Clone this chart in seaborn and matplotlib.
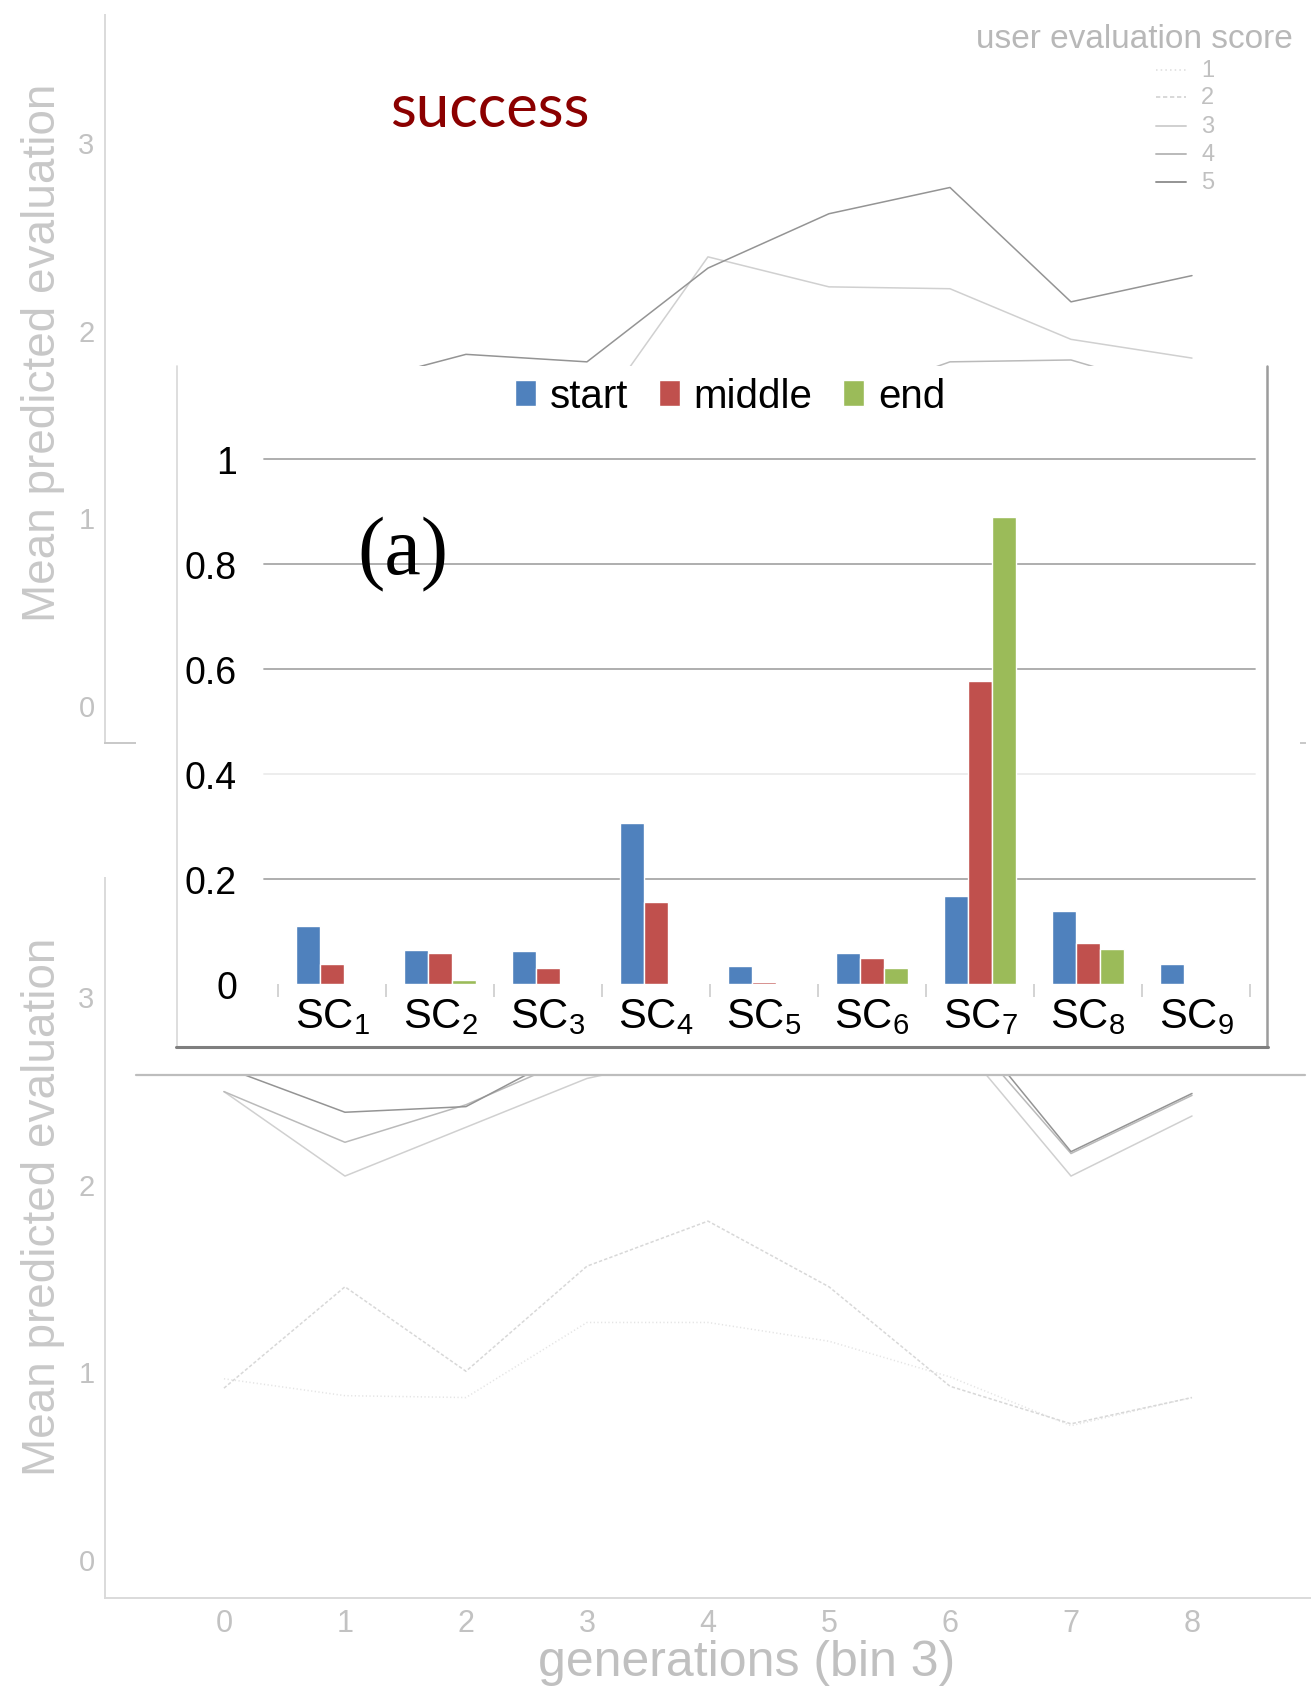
import matplotlib
matplotlib.use("Agg")
import numpy as np
import pandas as pd
import matplotlib.pyplot as plt
import seaborn as sns
from matplotlib.patches import Rectangle
from matplotlib.lines import Line2D
from matplotlib.ticker import FixedLocator, MultipleLocator

# ---------------------------------------------------------------- data
generations = [0, 1, 2, 3, 4, 5, 6, 7, 8]
score_levels = ["1", "2", "3", "4", "5"]

# "success" panel: mean predicted evaluation per generation bin
success_s1 = [0.80, 0.85, 0.90, 0.95, 1.00, 0.95, 0.90, 0.85, 0.80]
success_s2 = [0.90, 1.00, 1.10, 1.20, 1.30, 1.25, 1.15, 1.05, 1.00]
success_s3 = [1.30, 1.45, 1.40, 1.48, 2.39, 2.23, 2.22, 1.95, 1.85]
success_s4 = [1.45, 1.50, 1.55, 1.40, 1.50, 1.60, 1.83, 1.84, 1.65]
success_s5 = [1.55, 1.70, 1.87, 1.83, 2.33, 2.62, 2.76, 2.15, 2.29]

# lower panel
lower_s1 = [0.96, 0.87, 0.86, 1.26, 1.26, 1.16, 0.97, 0.71, 0.86]
lower_s2 = [0.91, 1.45, 1.00, 1.56, 1.80, 1.45, 0.92, 0.72, 0.86]
lower_s3 = [2.49, 2.04, 2.30, 2.56, 2.70, 2.80, 2.81, 2.04, 2.36]
lower_s4 = [2.49, 2.22, 2.42, 2.70, 2.85, 2.95, 2.90, 2.16, 2.47]
lower_s5 = [2.62, 2.38, 2.41, 2.75, 2.95, 3.05, 2.96, 2.17, 2.48]

# inset bar chart (a)
categories = [r"$\mathregular{SC_{%d}}$" % i for i in range(1, 10)]
phases = ["start", "middle", "end"]
start_vals = [0.111, 0.064, 0.062, 0.306, 0.034, 0.059, 0.168, 0.140, 0.038]
middle_vals = [0.038, 0.059, 0.030, 0.157, 0.004, 0.049, 0.577, 0.078, 0.0]
end_vals = [0.0, 0.008, 0.0, 0.0, 0.0, 0.031, 0.889, 0.067, 0.0]

# ---------------------------------------------------------------- style
sns.set_style("white")
plt.rcParams["font.family"] = ["Liberation Sans", "DejaVu Sans"]
plt.rcParams["mathtext.default"] = "regular"

W, H = 1312, 1690
fig = plt.figure(figsize=(W / 100, H / 100), dpi=100)


def frect(l, t, r, b):
    return [l / W, 1 - b / H, (r - l) / W, (b - t) / H]


def fx(x):
    return x / W


def fy(y):
    return 1 - y / H


line_colors = {"1": "#E4E4E4", "2": "#D8D8D8", "3": "#D0D0D0",
               "4": "#BABABA", "5": "#949494"}
line_dashes = {"1": (0.8, 1.6), "2": (2.2, 1.4), "3": "", "4": "", "5": ""}
axis_grey = "#DADADA"
text_grey = "#C2C2C2"


def long_frame(series):
    rows = []
    for s, vals in zip(score_levels, series):
        for g, v in zip(generations, vals):
            rows.append({"generation": g, "value": v, "score": s})
    return pd.DataFrame(rows)


def style_background(ax):
    ax.set_facecolor("none")
    for side in ("top", "right"):
        ax.spines[side].set_visible(False)
    for side in ("left", "bottom"):
        ax.spines[side].set_color(axis_grey)
        ax.spines[side].set_linewidth(1.4)
    ax.yaxis.set_major_locator(FixedLocator([0, 1, 2, 3]))
    ax.yaxis.set_minor_locator(MultipleLocator(0.5))
    ax.tick_params(axis="y", which="major", length=6, width=1.2, color=axis_grey,
                   labelsize=21, labelcolor=text_grey, pad=1.5)
    ax.tick_params(axis="y", which="minor", length=3, width=1.0, color="#E6E6E6")
    ax.set_ylabel("Mean predicted evaluation", fontsize=33, color="#C8C8C8")
    ax.yaxis.label.set_va("center")


# ---------------------------------------------------------------- lower panel
ax_bot = fig.add_axes(frect(105, 879, 1310, 1599), zorder=0)
sns.lineplot(data=long_frame([lower_s1, lower_s2, lower_s3, lower_s4, lower_s5]),
             x="generation", y="value", hue="score", style="score",
             palette=line_colors, dashes=line_dashes, linewidth=1.1,
             legend=False, ax=ax_bot)
style_background(ax_bot)
ax_bot.set_xlim(-0.983, 8.975)
ax_bot.set_ylim(-0.208, 3.628)
ax_bot.set_xticks(generations)
ax_bot.tick_params(axis="x", length=5, width=1.2, color=axis_grey,
                   labelsize=22, labelcolor=text_grey, pad=2)
ax_bot.set_xlabel("generations (bin 3)", fontsize=36, color="#C0C0C0")
ax_bot.xaxis.label.set_va("center")
ax_bot.xaxis.set_label_coords((747 - 105) / 1205, -(1663 - 1599) / 720)
ax_bot.yaxis.set_label_coords((43 - 105) / 1205, (1599 - 1207) / 720)

# ---------------------------------------------------------------- success panel
ax_top = fig.add_axes(frect(105, 16, 1305, 744), zorder=1)
sns.lineplot(data=long_frame([success_s1, success_s2, success_s3, success_s4, success_s5]),
             x="generation", y="value", hue="score", style="score",
             palette=line_colors, dashes=line_dashes, linewidth=1.1,
             legend=False, ax=ax_top)
style_background(ax_top)
ax_top.spines["bottom"].set_color("#C8C8C8")
ax_top.set_xlim(-0.983, 8.934)
ax_top.set_ylim(-0.203, 3.68)
ax_top.set_xticks(generations)
ax_top.tick_params(axis="x", bottom=False, labelbottom=False)
ax_top.set_xlabel("")
ax_top.yaxis.set_label_coords((43 - 105) / 1200, (744 - 353) / 728)

fig.text(fx(490), fy(110), "success", fontsize=43, color="#8B0000",
         family=["Lato", "DejaVu Sans"], ha="center", va="center", zorder=6)

# score legend of the line panels
fig.text(fx(976), fy(40), "user evaluation score", fontsize=24, color="#B8B8B8",
         ha="left", va="center", zorder=6)
for s, yrow in zip(score_levels, [71, 98, 127, 155, 183]):
    fig.add_artist(Line2D([fx(1156), fx(1186)], [fy(yrow), fy(yrow)],
                          color=line_colors[s], lw=1.4,
                          dashes=line_dashes[s] if line_dashes[s] else (None, None),
                          zorder=6))
    fig.text(fx(1201), fy(yrow), s, fontsize=17, color="#C0C0C0",
             ha="left", va="center", zorder=6)

# white sheet between the panels with its lower edge
fig.add_artist(Rectangle((fx(136), fy(1076)), (1300 - 136) / W, (1076 - 740) / H,
                         transform=fig.transFigure, facecolor="white",
                         edgecolor="none", zorder=2))
fig.add_artist(Line2D([fx(136), fx(1305)], [fy(1076), fy(1076)],
                      color="#BDBDBD", lw=1.6, zorder=2.1))

# ---------------------------------------------------------------- inset (a)
fig.add_artist(Rectangle((fx(176), fy(1047)), (1267 - 176) / W, (1047 - 367) / H,
                         transform=fig.transFigure, facecolor="white",
                         edgecolor="none", zorder=3))
fig.add_artist(Line2D([fx(177), fx(177)], [fy(367), fy(1047)],
                      color="#D8D8D8", lw=1.2, zorder=3.1))
fig.add_artist(Line2D([fx(1267), fx(1267)], [fy(367), fy(1048)],
                      color="#9C9C9C", lw=1.8, zorder=3.1))
fig.add_artist(Line2D([fx(176), fx(1268)], [fy(1048), fy(1048)],
                      color="#7F7F7F", lw=2.2, zorder=3.1))

bars = pd.DataFrame({
    "category": np.repeat(categories, 3),
    "phase": phases * len(categories),
    "value": np.ravel(np.column_stack([start_vals, middle_vals, end_vals])),
})
bar_colors = {"start": "#4F81BD", "middle": "#C0504D", "end": "#9BBB59"}

bar_left, bar_right = 278, 1250
ax_bar = fig.add_axes(frect(bar_left, 460, bar_right, 985), zorder=4)
ax_bar.set_facecolor("none")
sns.barplot(data=bars, x="category", y="value", hue="phase", palette=bar_colors,
            order=categories, hue_order=phases, width=0.67, errorbar=None,
            saturation=1, ax=ax_bar, zorder=3)
ax_bar.set_xlim(-0.5, 8.5)
ax_bar.set_ylim(0, 1)
for side in ax_bar.spines:
    ax_bar.spines[side].set_visible(False)
ax_bar.set_xlabel("")
ax_bar.set_ylabel("")

# horizontal gridlines run a little past the category range
yt = [0, 0.2, 0.4, 0.6, 0.8, 1.0]
span = bar_right - bar_left
for v in yt[1:]:
    ax_bar.axhline(v, xmin=-(bar_left - 264) / span, xmax=(1255 - bar_left) / span,
                   clip_on=False, zorder=1,
                   lw=1.3, color="#ECECEC" if v == 0.4 else "#A8A8A8")
ax_bar.set_yticks(yt)
ax_bar.set_yticklabels(["0", "0.2", "0.4", "0.6", "0.8", "1"])
ax_bar.tick_params(axis="y", length=0, labelsize=27, labelcolor="black", pad=29.5)

ax_bar.xaxis.set_minor_locator(FixedLocator(np.arange(-0.5, 9.0, 1.0)))
ax_bar.tick_params(axis="x", which="major", length=0, labelsize=30,
                   labelcolor="black", pad=9)
ax_bar.tick_params(axis="x", which="minor", bottom=True, direction="out",
                   length=9, width=1.3, color="#D0D0D0")

sns.move_legend(ax_bar, loc="center",
                bbox_to_anchor=((730 - bar_left) / span, (985 - 397) / 525),
                ncol=3, frameon=False, title=None, fontsize=29,
                handlelength=0.52, handleheight=0.62, handletextpad=0.35,
                columnspacing=0.75, labelcolor="black")

fig.text(fx(403), fy(555), "(a)", fontsize=59, color="black",
         family=["Liberation Serif", "DejaVu Serif"], ha="center", va="center",
         zorder=6)

fig.savefig("out.png", dpi=100, facecolor="white")
